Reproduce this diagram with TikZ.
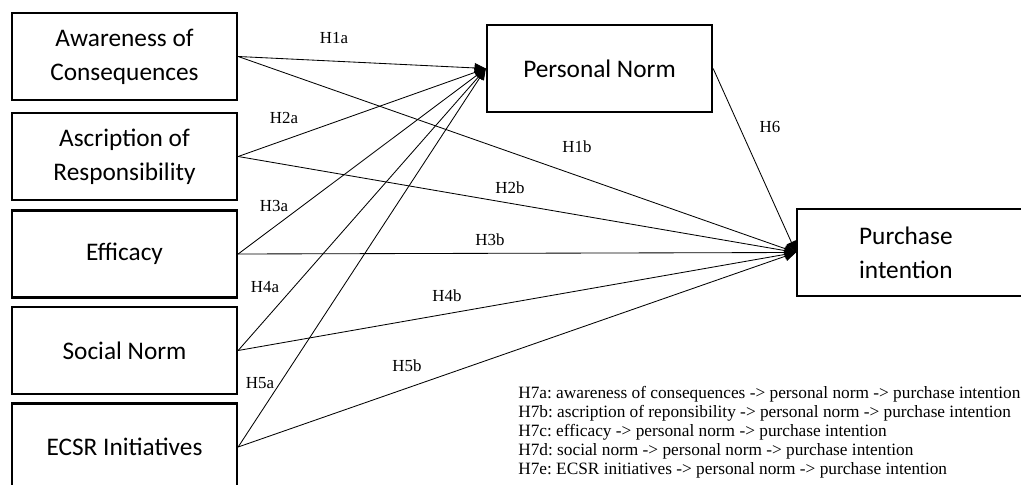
\documentclass[tikz,border=0pt]{standalone}
\usepackage{fontspec}
\setmainfont{Liberation Serif}
\newfontfamily\boxfont{Carlito}
\usetikzlibrary{arrows.meta}
\frenchspacing

\begin{document}
\begin{tikzpicture}[
    x=0.025cm, y=-0.025cm,
    box/.style={draw, line width=1.6pt, minimum width=5.625cm,
                minimum height=2.175cm, align=center, inner sep=0pt,
                font=\boxfont\fontsize{18}{24}\selectfont},
    arrow/.style={-{Triangle[length=8pt, width=7pt]}, line width=0.6pt},
    hlabel/.style={font=\fontsize{12}{14}\selectfont, inner sep=0pt},
  ]
    \useasboundingbox (0,0) rectangle (1021,485);

    % Antecedents
    \node[box] (aware) at (124.5, 56.5) {Awareness of\\Consequences};
    \node[box] (ascr)  at (124.5, 156.5) {Ascription of\\Responsibility};
    \node[box] (eff)   at (124.5, 254) {Efficacy};
    \node[box] (soc)   at (124.5, 350.5) {Social Norm};
    \node[box] (ecsr)  at (124.5, 447) {ECSR Initiatives};

    % Mediator and outcome
    \node[box] (pn) at (599.5, 68.5) {Personal Norm};
    \node[box, anchor=west, align=left, minimum width=0pt,
          text width=4cm, inner xsep=1.55cm] (pi) at (796, 252.5)
          {Purchase\\intention};

    % Paths to personal norm
    \draw[arrow] (aware.east) -- (pn.west);
    \draw[arrow] (ascr.east)  -- (pn.west);
    \draw[arrow] (eff.east)   -- (pn.west);
    \draw[arrow] (soc.east)   -- (pn.west);
    \draw[arrow] (ecsr.east)  -- (pn.west);

    % Paths to purchase intention
    \draw[arrow] (aware.east) -- (pi.west);
    \draw[arrow] (ascr.east)  -- (pi.west);
    \draw[arrow] (eff.east)   -- (pi.west);
    \draw[arrow] (soc.east)   -- (pi.west);
    \draw[arrow] (ecsr.east)  -- (pi.west);
    \draw[arrow] (pn.east)    -- (pi.west);

    % Hypothesis labels
    \node[hlabel] (h1a) at (334, 38)  {H1a};
    \node[hlabel] (h2a) at (284, 118) {H2a};
    \node[hlabel] (h3a) at (274, 206) {H3a};
    \node[hlabel] (h4a) at (265, 287) {H4a};
    \node[hlabel] (h5a) at (260, 383) {H5a};
    \node[hlabel] (h1b) at (577, 147) {H1b};
    \node[hlabel] (h2b) at (510, 188) {H2b};
    \node[hlabel] (h3b) at (490, 240) {H3b};
    \node[hlabel] (h4b) at (447, 296) {H4b};
    \node[hlabel] (h5b) at (407, 366) {H5b};
    \node[hlabel] (h6)  at (770, 127) {H6};

    % Mediation hypotheses
    \node[anchor=north west, align=left, inner sep=0pt,
          font=\fontsize{12.3}{13.5}\selectfont] (notes) at (518, 386)
      {H7a: awareness of consequences -> personal norm -> purchase intention\\
       H7b: ascription of reponsibility -> personal norm -> purchase intention\\
       H7c: efficacy -> personal norm -> purchase intention\\
       H7d: social norm -> personal norm -> purchase intention\\
       H7e: ECSR initiatives -> personal norm -> purchase intention};
  \end{tikzpicture}
\end{document}
